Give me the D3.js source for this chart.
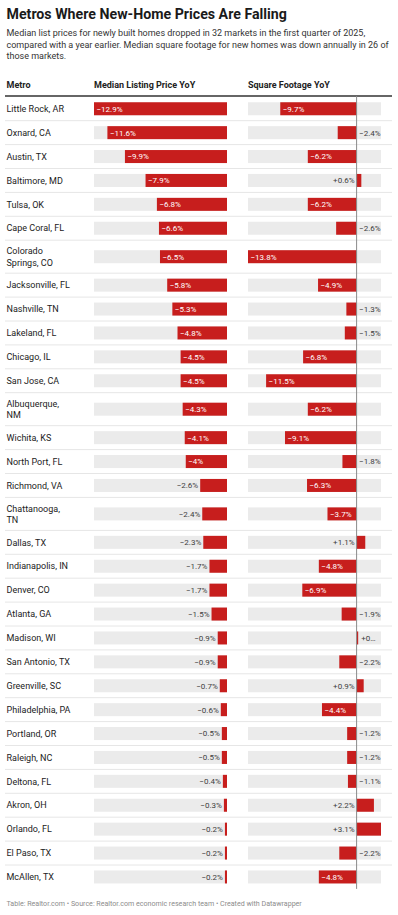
<!DOCTYPE html>
<html><head><meta charset="utf-8">
<script src="https://cdn.jsdelivr.net/npm/d3@7"></script>
<style>
html,body{margin:0;padding:0;background:#fff;}
svg{display:block;font-family:Roboto,"Noto Sans",sans-serif;}
</style></head>
<body><svg id="c" width="398" height="915"></svg>
<script>
const title = "Metros Where New-Home Prices Are Falling";
const subtitleLines = [
  "Median list prices for newly built homes dropped in 32 markets in the first quarter of 2025,",
  "compared with a year earlier. Median square footage for new homes was down annually in 26 of",
  "those markets."
];
const headers = ["Metro", "Median Listing Price YoY", "Square Footage YoY"];
const footer = "Table: Realtor.com • Source: Realtor.com economic research team • Created with Datawrapper";

const metros = ["Little Rock, AR","Oxnard, CA","Austin, TX","Baltimore, MD","Tulsa, OK","Cape Coral, FL",
  "Colorado Springs, CO","Jacksonville, FL","Nashville, TN","Lakeland, FL","Chicago, IL","San Jose, CA",
  "Albuquerque, NM","Wichita, KS","North Port, FL","Richmond, VA","Chattanooga, TN","Dallas, TX",
  "Indianapolis, IN","Denver, CO","Atlanta, GA","Madison, WI","San Antonio, TX","Greenville, SC",
  "Philadelphia, PA","Portland, OR","Raleigh, NC","Deltona, FL","Akron, OH","Orlando, FL","El Paso, TX","McAllen, TX"];
const priceYoY = [-12.9,-11.6,-9.9,-7.9,-6.8,-6.6,-6.5,-5.8,-5.3,-4.8,-4.5,-4.5,-4.3,-4.1,-4,-2.6,-2.4,-2.3,
  -1.7,-1.7,-1.5,-0.9,-0.9,-0.7,-0.6,-0.5,-0.5,-0.4,-0.3,-0.2,-0.2,-0.2];
const sqftYoY = [-9.7,-2.4,-6.2,0.6,-6.2,-2.6,-13.8,-4.9,-1.3,-1.5,-6.8,-11.5,-6.2,-9.1,-1.8,-6.3,-3.7,1.1,
  -4.8,-6.9,-1.9,0.2,-2.2,0.9,-4.4,-1.2,-1.2,-1.1,2.2,3.1,-2.2,-4.8];

const RED = "#c71e1d", BG = "#ebebeb", DARK = "#222", MID = "#404040";
const svg = d3.select("#c");
const fmt = d3.format("+.1~f");
const fmtNeg = d3.format(".1~f");
const lab = v => (v < 0 ? fmtNeg(v) : fmt(v)) + "%";

// Title & subtitle
svg.append("text").attr("x", 6.5).attr("y", 18.5).attr("font-size", 14.2).attr("font-weight", 700)
  .attr("fill", "#1a1a1a").text(title);
svg.append("g").selectAll("text").data(subtitleLines).join("text")
  .attr("x", 6.5).attr("y", (d, i) => 36.2 + i * 11.3).attr("font-size", 9).attr("fill", "#333").text(d => d);

// headers
const colX = [6.5, 94, 248];
svg.append("g").selectAll("text").data(headers).join("text")
  .attr("x", (d, i) => colX[i]).attr("y", 88.3).attr("font-size", 9).attr("font-weight", 700)
  .attr("fill", DARK).text(d => d);

const tblLeft = 5, tblRight = 392, tblTop = 96.8;
svg.append("line").attr("x1", tblLeft).attr("x2", tblRight).attr("y1", 96).attr("y2", 96)
  .attr("stroke", "#333").attr("stroke-width", 1.6);

// wrapping of metro names
const labelSize = 9, maxLabelW = 67;
const measure = svg.append("text").attr("font-size", labelSize).attr("visibility", "hidden");
function wrap(name) {
  measure.text(name);
  if (measure.node().getComputedTextLength() <= maxLabelW) return [name];
  const words = name.split(" ");
  const lines = []; let cur = "";
  words.forEach(w => {
    const t = cur ? cur + " " + w : w;
    measure.text(t);
    if (measure.node().getComputedTextLength() > maxLabelW && cur) { lines.push(cur); cur = w; }
    else cur = t;
  });
  lines.push(cur);
  return lines;
}
const rows = metros.map((m, i) => ({ name: m, lines: wrap(m), price: priceYoY[i], sqft: sqftYoY[i] }));
measure.remove();

const singleH = 23.9, doubleH = 33;
let yAcc = tblTop;
rows.forEach(r => { r.h = r.lines.length > 1 ? doubleH : singleH; r.y0 = yAcc; r.cy = yAcc + r.h / 2; yAcc += r.h; });
const tblBottom = yAcc;

// scales
const xP = d3.scaleLinear().domain([d3.min(priceYoY), 0]).range([94, 227]);
const xS = d3.scaleLinear().domain([d3.min(sqftYoY), d3.max(sqftYoY)]).range([248, 381]);
const barH = 13;

// separators
svg.append("g").selectAll("line").data(rows.slice(0, -1)).join("line")
  .attr("x1", tblLeft).attr("x2", tblRight).attr("y1", r => r.y0 + r.h).attr("y2", r => r.y0 + r.h)
  .attr("stroke", "#e6e6e6").attr("stroke-width", 1);

const g = svg.append("g").selectAll("g").data(rows).join("g");

// metro labels
g.append("text").attr("font-size", labelSize).attr("fill", DARK)
  .each(function (r) {
    const n = r.lines.length, lh = 11.2;
    d3.select(this).selectAll("tspan").data(r.lines).join("tspan")
      .attr("x", 6.5).attr("y", (d, i) => r.cy + 3.2 + (i - (n - 1) / 2) * lh).text(d => d);
  });

// backgrounds
g.append("rect").attr("x", xP.range()[0]).attr("width", xP.range()[1] - xP.range()[0])
  .attr("y", r => r.cy - barH / 2).attr("height", barH).attr("fill", BG);
g.append("rect").attr("x", xS.range()[0]).attr("width", xS.range()[1] - xS.range()[0])
  .attr("y", r => r.cy - barH / 2).attr("height", barH).attr("fill", BG);

// price bars
g.append("rect").attr("x", r => xP(r.price)).attr("width", r => xP(0) - xP(r.price))
  .attr("y", r => r.cy - barH / 2).attr("height", barH).attr("fill", RED);
// sqft bars
g.append("rect").attr("x", r => xS(Math.min(0, r.sqft))).attr("width", r => Math.abs(xS(r.sqft) - xS(0)))
  .attr("y", r => r.cy - barH / 2).attr("height", barH).attr("fill", RED);

const valSize = 8, inside = 28;
// price labels
g.append("text").attr("font-size", valSize).attr("y", r => r.cy + 2.9)
  .each(function (r) {
    const w = xP(0) - xP(r.price);
    const t = d3.select(this).text(lab(r.price));
    if (w > inside) t.attr("x", xP(r.price) + 2.5).attr("fill", "#fff").attr("text-anchor", "start");
    else t.attr("x", xP(r.price) - 2).attr("fill", MID).attr("text-anchor", "end");
  });

// zero line in sqft column
svg.append("line").attr("x1", xS(0)).attr("x2", xS(0)).attr("y1", 96).attr("y2", tblBottom)
  .attr("stroke", "#8a8a8a").attr("stroke-width", 1);

// sqft labels
g.append("text").attr("font-size", valSize).attr("y", r => r.cy + 2.9)
  .each(function (r) {
    const t = d3.select(this).text(lab(r.sqft));
    const w = Math.abs(xS(r.sqft) - xS(0));
    if (r.sqft < 0) {
      if (w > inside) t.attr("x", xS(r.sqft) + 2.5).attr("fill", "#fff").attr("text-anchor", "start");
      else t.attr("x", xS(0) + 2.5).attr("fill", MID).attr("text-anchor", "start");
    } else if (r.sqft >= 0.5) {
      t.attr("x", xS(0) - 2).attr("fill", MID).attr("text-anchor", "end");
    } else {
      // tiny positive: placed right of the bar, truncated to the space left
      const x0 = xS(r.sqft) + 3, avail = xS.range()[1] - x0 - 3;
      t.attr("x", x0).attr("fill", MID).attr("text-anchor", "start");
      let s = lab(r.sqft);
      while (t.node().getComputedTextLength() > avail && s.length > 1) {
        s = s.slice(0, -1).replace(/\.$/, "");
        t.text(s + "…");
      }
    }
  });

// footer
svg.append("text").attr("x", 6.5).attr("y", 906).attr("font-size", 7.1).attr("fill", "#8c8c8c").text(footer);
</script></body></html>
